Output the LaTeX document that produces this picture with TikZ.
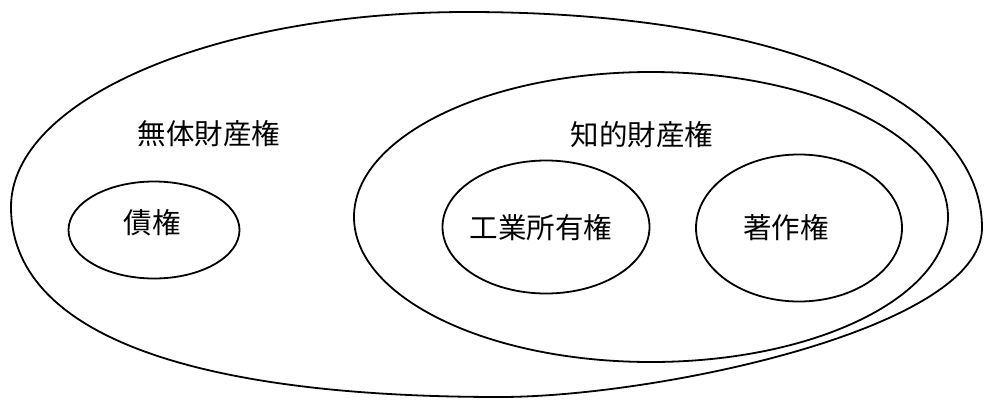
\documentclass[tikz,border=0pt]{standalone}
\usepackage{fontspec}
\newfontfamily\cjk{Noto Sans CJK JP}
\usetikzlibrary{shapes.geometric}
\begin{document}
\begin{tikzpicture}[x=1pt,y=-1pt,
  ringline/.style={draw=black, line width=1.8pt},
  ring/.style={ringline, ellipse, inner sep=0pt},
  lab/.style={font=\cjk\fontsize{28.5}{31}\selectfont, inner sep=0pt}]
\useasboundingbox (0,0) rectangle (984,399);
% outer egg-shaped boundary
\draw[ringline] (11,207) .. controls (11,99) and (216,12) .. (467,12)
  .. controls (777,12) and (982,98) .. (982,228)
  .. controls (982,329) and (656,397) .. (500,397)
  .. controls (183,397) and (11,331) .. (11,207) -- cycle;
\node[ring, minimum width=594pt, minimum height=290pt] (chiteki) at (651,217) {};
\node[ring, minimum width=171pt, minimum height=97pt] (saiken) at (154,230) {};
\node[ring, minimum width=207pt, minimum height=133pt] (kogyo) at (546,227) {};
\node[ring, minimum width=206pt, minimum height=147pt] (chosaku) at (799,228) {};
\node[lab] (l-outer) at (209,134) {無体財産権};
\node[lab] (l-chiteki) at (642,135) {知的財産権};
\node[lab] (l-saiken) at (152,223) {債権};
\node[lab] (l-kogyo) at (541,228) {工業所有権};
\node[lab] (l-chosaku) at (786,228) {著作権};
\end{tikzpicture}
\end{document}
